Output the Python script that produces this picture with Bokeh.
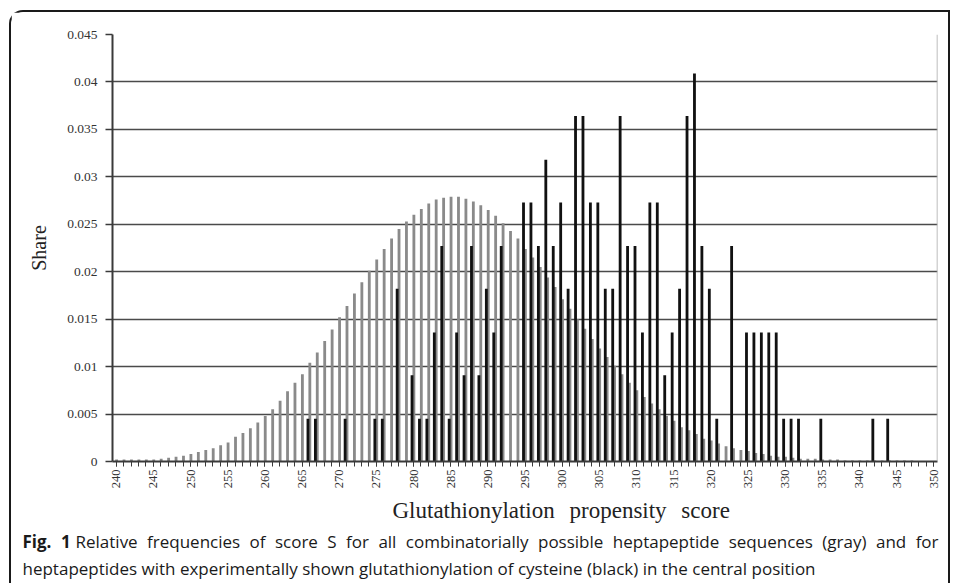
import math
from bokeh.plotting import figure
from bokeh.models import (FixedTicker, Label, ColumnDataSource, Range1d, Span,
                          CustomJSTickFormatter)
from bokeh.layouts import column
from bokeh.embed import file_html
from bokeh.resources import INLINE
from bokeh.transform import dodge

# ---- data ----
scores = list(range(240, 351))
gray_share = [
    0.0002, 0.0002, 0.0002, 0.0002, 0.0002, 0.0002, 0.0003, 0.0004, 0.0005, 0.0006,  # 240-249
    0.0008, 0.0010, 0.0012, 0.0014, 0.0017, 0.0020, 0.0026, 0.0030, 0.0035, 0.0041,  # 250-259
    0.0048, 0.0055, 0.0064, 0.0074, 0.0083, 0.0092, 0.0104, 0.0115, 0.0127, 0.0139,  # 260-269
    0.0152, 0.0164, 0.0177, 0.0189, 0.0201, 0.0213, 0.0224, 0.0235, 0.0245, 0.0253,  # 270-279
    0.0260, 0.0266, 0.0272, 0.0276, 0.0278, 0.0279, 0.0279, 0.0277, 0.0274, 0.0270,  # 280-289
    0.0265, 0.0259, 0.0251, 0.0243, 0.0235, 0.0224, 0.0215, 0.0205, 0.0194, 0.0184,  # 290-299
    0.0171, 0.0161, 0.0150, 0.0140, 0.0129, 0.0119, 0.0110, 0.0101, 0.0092, 0.0083,  # 300-309
    0.0075, 0.0068, 0.0061, 0.0055, 0.0048, 0.0043, 0.0036, 0.0033, 0.0029, 0.0024,  # 310-319
    0.0022, 0.0019, 0.0016, 0.0014, 0.0012, 0.0011, 0.0009, 0.0008, 0.0006, 0.0005,  # 320-329
    0.0005, 0.0004, 0.0003, 0.0003, 0.0003, 0.0002, 0.0002, 0.0002, 0.0001, 0.0001,  # 330-339
    0.0001, 0.0001, 0.0001, 0.0001, 0.0001, 0.0001, 0.0001, 0.0001, 0.0, 0.0,        # 340-349
    0.0,                                                                                # 350
]

black_scores = [266, 267, 271, 275, 276, 278, 280, 281, 282, 283, 284, 285, 286, 287,
                288, 289, 290, 291, 292, 295, 296, 297, 298, 299, 300, 301, 302, 303,
                304, 305, 306, 307, 308, 309, 310, 311, 312, 313, 314, 315, 316, 317,
                318, 319, 320, 321, 323, 325, 326, 327, 328, 329, 330, 331, 332, 335,
                342, 344]
black_share = [0.0045, 0.0045, 0.0045, 0.0045, 0.0045, 0.0182, 0.0091, 0.0045, 0.0045,
               0.0136, 0.0227, 0.0045, 0.0136, 0.0091, 0.0227, 0.0091, 0.0182, 0.0136,
               0.0227, 0.0273, 0.0273, 0.0227, 0.0318, 0.0227, 0.0273, 0.0182, 0.0364,
               0.0364, 0.0273, 0.0273, 0.0182, 0.0182, 0.0364, 0.0227, 0.0227, 0.0136,
               0.0273, 0.0273, 0.0091, 0.0136, 0.0182, 0.0364, 0.0409, 0.0227, 0.0182,
               0.0045, 0.0227, 0.0136, 0.0136, 0.0136, 0.0136, 0.0136, 0.0045, 0.0045,
               0.0045, 0.0045, 0.0045, 0.0045]

x_label_ticks = [240, 245, 250, 255, 260, 265, 270, 275, 280, 285, 290, 295, 300,
                 305, 310, 315, 320, 325, 330, 335, 340, 345, 350]
y_ticks = [0, 0.005, 0.01, 0.015, 0.02, 0.025, 0.03, 0.035, 0.04, 0.045]

x_title = "Glutathionylation propensity score"
y_title = "Share"
caption_bold = "Fig. 1"
caption_line1 = ("Relative frequencies of score S for all combinatorially possible "
                 "heptapeptide sequences (gray) and for")
caption_line2 = ("heptapeptides with experimentally shown glutathionylation of "
                 "cysteine (black) in the central position")

SERIF = "Liberation Serif"
SANS = "Open Sans"
W = 937


def text_panel(height, word_spacing=None):
    f = figure(width=W, height=height, output_backend="svg", toolbar_location=None,
               x_range=Range1d(0, 1), y_range=Range1d(0, 1),
               x_axis_type=None, y_axis_type=None,
               min_border_left=0, min_border_right=0, min_border_top=0,
               min_border_bottom=0)
    f.frame_align = False
    f.outline_line_color = None
    f.xgrid.visible = False
    f.ygrid.visible = False
    f.border_fill_color = "white"
    f.background_fill_color = "white"
    if word_spacing:
        f.styles = {"word-spacing": word_spacing}
    return f


p = figure(width=W, height=484, output_backend="svg", toolbar_location=None,
           x_range=Range1d(239.5, 350.5), y_range=Range1d(0, 0.045),
           min_border_left=101, min_border_right=11, min_border_top=22,
           min_border_bottom=35)
p.frame_align = False
p.background_fill_color = "white"
p.border_fill_color = "white"
p.outline_line_color = None

gray_src = ColumnDataSource(dict(score=scores, share=gray_share))
black_src = ColumnDataSource(dict(score=black_scores, share=black_share))

p.vbar(x=dodge("score", 0.05, range=p.x_range), top="share", width=0.38,
       source=gray_src, fill_color="#8a8a8a", line_color=None)
p.vbar(x=dodge("score", -0.2, range=p.x_range), top="share", width=0.38,
       source=black_src, fill_color="#111111", line_color=None)

# grid
p.xgrid.visible = False
p.ygrid.ticker = FixedTicker(ticks=y_ticks)
p.ygrid.grid_line_color = "#4a4a4a"
p.ygrid.grid_line_width = 1.5
p.add_layout(Span(location=350.5, dimension="height", line_color="#a8a8a8",
                  line_width=1.5))

# y axis
ya = p.yaxis[0]
ya.ticker = FixedTicker(ticks=y_ticks)
ya.formatter = CustomJSTickFormatter(
    code="return tick === 0 ? '0' : String(parseFloat(tick.toFixed(3)));")
ya.axis_line_color = "#3a3a3a"
ya.axis_line_width = 2
ya.major_tick_line_color = "#3a3a3a"
ya.major_tick_line_width = 1.5
ya.major_tick_out = 7
ya.major_tick_in = 0
ya.minor_tick_line_color = None
ya.major_label_text_font = SERIF
ya.major_label_text_font_size = "13.5px"
ya.major_label_text_color = "#333333"
ya.major_label_standoff = 8
ya.axis_label = y_title
ya.axis_label_text_font = SERIF
ya.axis_label_text_font_style = "normal"
ya.axis_label_text_font_size = "20px"
ya.axis_label_text_color = "#222222"
ya.axis_label_standoff = 14

# x axis
xa = p.xaxis[0]
xa.ticker = FixedTicker(ticks=x_label_ticks, minor_ticks=scores)
xa.axis_line_color = "#3a3a3a"
xa.axis_line_width = 2
xa.major_tick_line_color = "#3a3a3a"
xa.major_tick_out = 5
xa.major_tick_in = 0
xa.minor_tick_line_color = "#3a3a3a"
xa.minor_tick_out = 5
xa.minor_tick_in = 0
xa.major_label_orientation = math.pi / 2
xa.major_label_text_font = SERIF
xa.major_label_text_font_size = "12.5px"
xa.major_label_text_color = "#333333"
xa.major_label_standoff = 3

# x-axis title (placed in its own strip so it can sit where the reference has it)
t = text_panel(31, "9px")
t.add_layout(Label(x=381, y=17, x_units="screen", y_units="screen", text=x_title,
                   text_font=SERIF, text_font_size="23px", text_color="#222222",
                   text_align="left", text_baseline="middle"))

# caption, line 1 justified to the full width, line 2 natural
c1 = text_panel(28, "5px")
c1.add_layout(Label(x=11, y=14, x_units="screen", y_units="screen", text=caption_bold,
                    text_font=SANS, text_font_style="bold", text_font_size="17px",
                    text_color="#1a1a1a", text_baseline="middle"))
c1.add_layout(Label(x=64, y=14, x_units="screen", y_units="screen", text=caption_line1,
                    text_font=SANS, text_font_size="17px", text_color="#1a1a1a",
                    text_baseline="middle"))
c2 = text_panel(28)
c2.add_layout(Label(x=11, y=15, x_units="screen", y_units="screen", text=caption_line2,
                    text_font=SANS, text_font_size="17px", text_color="#1a1a1a",
                    text_baseline="middle"))

layout = column(p, t, c1, c2, spacing=0,
                styles={"border-top": "2px solid #1a1a1a",
                        "border-left": "2px solid #1a1a1a",
                        "border-right": "2px solid #1a1a1a",
                        "border-top-left-radius": "14px",
                        "margin-left": "9px", "margin-top": "10px"})

open("out.html", "w").write(file_html(layout, INLINE))
